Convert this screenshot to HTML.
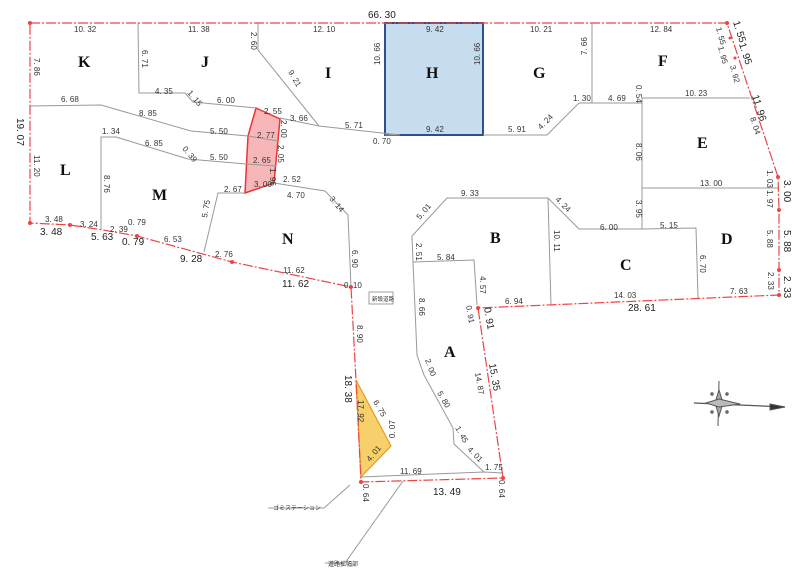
<!DOCTYPE html>
<html><head><meta charset="utf-8"><style>
html,body{margin:0;padding:0;background:#fff;width:800px;height:584px;overflow:hidden}
svg{display:block}
text{font-family:"Liberation Sans","Noto Sans CJK JP",sans-serif;font-size:8px;fill:#333}
.L{font-family:"Liberation Serif",serif;font-size:16px;font-weight:bold;fill:#111}
.b{font-size:10px;fill:#222}
</style></head><body>
<svg width="800" height="584" viewBox="0 0 800 584">
<!-- H box -->
<rect x="385" y="23" width="98" height="112" fill="#c6dcef" stroke="#2f4f8a" stroke-width="2"/>
<!-- red pink polygon -->
<polygon points="256,108 280,119 274,183 245,193 248,136" fill="#f7b6b8" stroke="#e33" stroke-width="1.5"/>
<!-- orange triangle -->
<polygon points="356,380 361,477 391,446" fill="#f7cf6b" stroke="#e0a020" stroke-width="1.2"/>
<!-- gray lines -->
<g stroke="#999" stroke-width="1" fill="none">
<polyline points="138,23 139,93 185,93 193,102 256,108"/>
<polyline points="258,23 258,50 319,126 400,135"/>
<polyline points="280,118 319,126"/>
<polyline points="30,106 101,105 191,131 248,136 278,141"/>
<polyline points="101,230 101,137 116,137 188,159 246,164 276,166"/>
<polyline points="274,183 325,191 348,215 351,287"/>
<polyline points="245,193 218,193 204,252"/>
<polyline points="483,135 547,135 579,103 642,103"/>
<polyline points="592,23 592,103"/>
<polyline points="642,98 750,98"/>
<polyline points="642,98 642,229"/>
<polyline points="642,188 778,188"/>
<polyline points="642,229 579,229 548,198 447,198 412,236 413,262 417,355 424,375 453,428 454,444 484,472"/>
<polyline points="413,262 474,260 477,305"/>
<polyline points="548,198 551,305"/>
<polyline points="642,229 696,228 698,298"/>
<polyline points="361,477 484,472 503,473"/>
<polyline points="385,135 400,135"/>
<polyline points="350,485 324,508 268,508"/>
<polyline points="403,481 345,563 325,563"/>
</g>
<!-- red boundary -->
<g stroke="#e44" stroke-width="1.2" fill="none" stroke-dasharray="10,2,2,2">
<polyline points="30,23 727,23 778,177 779,210 779,295 478,308 503,478 361,482 356,380 351,287 232,262 137,236 103,230 70,225 30,223 30,23"/>
</g>
<g fill="#e44">
<circle cx="30" cy="23" r="2"/><circle cx="727" cy="23" r="2"/><circle cx="778" cy="177" r="2"/><circle cx="779" cy="210" r="2"/><circle cx="779" cy="270" r="2"/><circle cx="779" cy="295" r="2"/><circle cx="478" cy="308" r="2"/><circle cx="503" cy="478" r="2"/><circle cx="361" cy="482" r="2"/><circle cx="351" cy="287" r="2"/><circle cx="232" cy="262" r="2"/><circle cx="137" cy="236" r="2"/><circle cx="70" cy="225" r="2"/><circle cx="30" cy="223" r="2"/><circle cx="730" cy="38" r="1.5"/><circle cx="735" cy="58" r="1.5"/>
</g>
<!-- lot letters -->
<text class="L" x="78" y="67">K</text><text class="L" x="201" y="67">J</text><text class="L" x="325" y="78">I</text>
<text class="L" x="426" y="78">H</text><text class="L" x="533" y="78">G</text><text class="L" x="658" y="66">F</text>
<text class="L" x="697" y="148">E</text><text class="L" x="60" y="175">L</text><text class="L" x="152" y="200">M</text>
<text class="L" x="282" y="244">N</text><text class="L" x="490" y="243">B</text><text class="L" x="620" y="270">C</text>
<text class="L" x="721" y="244">D</text><text class="L" x="444" y="357">A</text>
<!-- dimensions -->
<text class="b" x="368" y="18">66. 30</text>
<text x="74" y="32">10. 32</text><text x="188" y="32">11. 38</text><text x="313" y="32">12. 10</text>
<text x="426" y="32">9. 42</text><text x="530" y="32">10. 21</text><text x="650" y="32">12. 84</text>
<text x="426" y="132">9. 42</text><text x="508" y="132">5. 91</text><text x="345" y="128">5. 71</text><text x="373" y="144">0. 70</text>
<text x="61" y="102">6. 68</text><text x="155" y="94">4. 35</text><text x="217" y="103">6. 00</text><text x="290" y="121">3. 66</text>
<text x="102" y="134">1. 34</text><text x="145" y="146">6. 85</text><text x="210" y="134">5. 50</text><text x="210" y="160">5. 50</text>
<text x="257" y="138">2. 77</text><text x="253" y="163">2. 65</text><text x="254" y="187">3. 00</text><text x="224" y="192">2. 67</text>
<text x="287" y="198">4. 70</text><text x="283" y="182">2. 52</text><text x="264" y="114">2. 55</text>
<text x="139" y="116">8. 85</text>
<text x="45" y="222">3. 48</text><text x="80" y="227">3. 24</text><text x="110" y="232">2. 39</text><text x="128" y="225">0. 79</text>
<text x="164" y="242">6. 53</text><text x="215" y="257">2. 76</text><text x="283" y="273">11. 62</text>
<text class="b" x="40" y="235">3. 48</text><text class="b" x="91" y="240">5. 63</text><text class="b" x="122" y="245">0. 79</text>
<text class="b" x="180" y="262">9. 28</text><text class="b" x="282" y="287">11. 62</text>
<text x="344" y="288">0. 10</text>
<text x="461" y="196">9. 33</text><text x="437" y="260">5. 84</text><text x="600" y="230">6. 00</text><text x="660" y="228">5. 15</text>
<text x="505" y="304">6. 94</text><text x="614" y="298">14. 03</text><text x="730" y="294">7. 63</text>
<text class="b" x="628" y="311">28. 61</text>
<text x="573" y="101">1. 30</text><text x="608" y="101">4. 69</text><text x="685" y="96">10. 23</text><text x="700" y="186">13. 00</text>
<text x="400" y="474">11. 69</text><text class="b" x="433" y="495">13. 49</text><text x="485" y="470">1. 75</text>
<text x="273" y="510" style="font-size:6px">ゴミステーション</text><text x="328" y="566" style="font-size:6px">道路拡幅部</text>
<rect x="369" y="292" width="24" height="12" fill="#fff" stroke="#777" stroke-width="0.7"/><text x="372" y="301" style="font-size:5.5px">新設道路</text>
<!-- rotated labels -->
<g>
<text transform="translate(34,58) rotate(90)">7. 86</text>
<text class="b" transform="translate(17,118) rotate(90)">19. 07</text>
<text transform="translate(34,155) rotate(90)">11. 20</text>
<text transform="translate(142,50) rotate(90)">6. 71</text>
<text transform="translate(251,32) rotate(90)">2. 60</text>
<text transform="translate(288,72) rotate(60)">9. 21</text>
<text transform="translate(380,65) rotate(-90)">10. 66</text>
<text transform="translate(480,65) rotate(-90)">10. 66</text>
<text transform="translate(587,55) rotate(-90)">7. 66</text>
<text transform="translate(636,85) rotate(90)">0. 54</text>
<text transform="translate(636,143) rotate(90)">8. 06</text>
<text transform="translate(636,200) rotate(90)">3. 95</text>
<text transform="translate(554,230) rotate(90)">10. 11</text>
<text transform="translate(700,255) rotate(90)">6. 70</text>
<text transform="translate(104,175) rotate(90)">8. 76</text>
<text transform="translate(207,218) rotate(-80)">5. 75</text>
<text transform="translate(329,199) rotate(50)">3. 14</text>
<text transform="translate(352,250) rotate(90)">6. 90</text>
<text transform="translate(187,93) rotate(50)">1. 15</text>
<text transform="translate(182,149) rotate(50)">0. 39</text>
<text transform="translate(281,120) rotate(90)">2. 00</text>
<text transform="translate(278,145) rotate(90)">2. 05</text>
<text transform="translate(270,168) rotate(90)">1. 96</text>
<text transform="translate(541,130) rotate(-45)">4. 24</text>
<text transform="translate(555,200) rotate(45)">4. 24</text>
<text transform="translate(420,220) rotate(-50)">5. 01</text>
<text transform="translate(416,243) rotate(90)">2. 51</text>
<text transform="translate(480,276) rotate(90)">4. 57</text>
<text transform="translate(419,298) rotate(90)">8. 66</text>
<text transform="translate(425,360) rotate(70)">2. 00</text>
<text transform="translate(437,393) rotate(60)">5. 80</text>
<text transform="translate(455,428) rotate(60)">1. 45</text>
<text transform="translate(467,450) rotate(45)">4. 01</text>
<text transform="translate(466,306) rotate(80)">0. 91</text>
<text class="b" transform="translate(484,308) rotate(80)">0. 91</text>
<text transform="translate(475,373) rotate(80)">14. 87</text>
<text class="b" transform="translate(489,364) rotate(80)">15. 35</text>
<text transform="translate(357,325) rotate(90)">8. 90</text>
<text class="b" transform="translate(345,375) rotate(90)">18. 38</text>
<text transform="translate(358,400) rotate(90)">17. 92</text>
<text transform="translate(373,402) rotate(60)">6. 75</text>
<text transform="translate(395,438) rotate(-90)">0. 07</text>
<text transform="translate(370,462) rotate(-50)">4. 01</text>
<text transform="translate(363,484) rotate(90)">0. 64</text>
<text transform="translate(499,480) rotate(90)">0. 64</text>
<text transform="translate(716,28) rotate(75)">1. 55</text>
<text transform="translate(718,47) rotate(75)">1. 95</text>
<text transform="translate(730,66) rotate(75)">3. 92</text>
<text class="b" transform="translate(733,22) rotate(72)">1. 55</text>
<text class="b" transform="translate(739,44) rotate(72)">1. 95</text>
<text class="b" transform="translate(752,96) rotate(72)">11. 96</text>
<text transform="translate(750,118) rotate(72)">8. 04</text>
<text transform="translate(767,170) rotate(90)">1. 03</text>
<text transform="translate(767,190) rotate(90)">1. 97</text>
<text class="b" transform="translate(784,180) rotate(90)">3. 00</text>
<text transform="translate(767,230) rotate(90)">5. 88</text>
<text class="b" transform="translate(784,230) rotate(90)">5. 88</text>
<text transform="translate(768,272) rotate(90)">2. 33</text>
<text class="b" transform="translate(784,276) rotate(90)">2. 33</text>
</g>
<!-- compass -->
<g stroke="#555" fill="#888">
<line x1="694" y1="403" x2="785" y2="407" stroke-width="1.2"/>
<line x1="719" y1="381" x2="718" y2="426" stroke-width="1"/>
<polygon points="719,390 723,403 719,416 715,403" fill="#aaa"/>
<polygon points="706,403 719,399 740,404 719,407" fill="#bbb"/>
<polygon points="770,404 785,407 770,410" fill="#333"/>
<circle cx="712" cy="394" r="1.2"/><circle cx="727" cy="394" r="1.2"/><circle cx="712" cy="412" r="1.2"/><circle cx="727" cy="412" r="1.2"/>
</g>
</svg>
</body></html>
